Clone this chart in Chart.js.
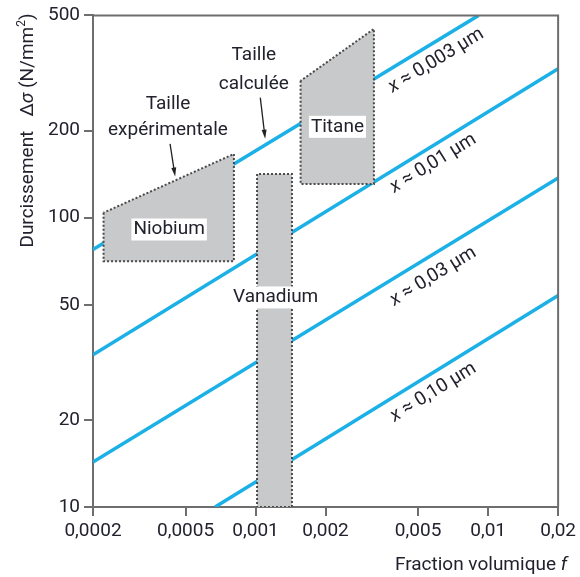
<!DOCTYPE html>
<html>
<head>
<meta charset="utf-8">
<script src="https://cdn.jsdelivr.net/npm/chart.js@4.4.1/dist/chart.umd.min.js"></script>
<style>
html,body{margin:0;padding:0;background:#fff}
</style>
</head>
<body>
<canvas id="chart" width="580" height="577"></canvas>
<script>
// axis ticks
const xTicks = [0.0002, 0.0005, 0.001, 0.002, 0.005, 0.01, 0.02]
const yTicks = [10, 20, 50, 100, 200, 500]

// calculated lines, one per particle size (f, sigma at both ends)
const lineNames = ["0,003 µm", "0,01 µm", "0,03 µm", "0,10 µm"]
const lineF = [[0.0002, 0.0091], [0.0002, 0.02], [0.0002, 0.02], [0.00067, 0.02]]
const lineS = [[77.6, 500], [33.6, 327], [14.3, 137], [10, 53.8]]
const lineLabelF = [0.00598, 0.00581, 0.00581, 0.00581]
const lineLabelS = [349, 154, 62.6, 24.9]

// measured zones (corners)
const zoneNames = ["Niobium", "Vanadium", "Titane"]
const zoneF = [
  [0.000222, 0.000222, 0.000807, 0.000807],
  [0.001015, 0.001015, 0.001434, 0.001434],
  [0.001562, 0.001562, 0.003228, 0.003228]
]
const zoneS = [
  [104, 70.7, 70.7, 166],
  [141.6, 10, 10, 141.6],
  [297, 130.8, 130.8, 449]
]
const zoneLabelF = [0.000425, 0.00122, 0.00225]
const zoneLabelS = [91, 53, 206]

// notes with arrows
const noteText = [["Taille", "expérimentale"], ["Taille", "calculée"]]
const noteF = [0.00042, 0.000983]
const noteS = [[246, 200], [363, 288]]
const arrowF = [[0.000429, 0.000451], [0.001048, 0.0011]]
const arrowS = [[180, 138.7], [260, 187.5]]

const FONT = "Roboto, 'Liberation Sans', sans-serif"
const SIZE = 19
const axisColor = "#6e6e6e"
const textColor = "#22222e"
const blue = "#1bb0e6"

const font = (style, size) => style + " " + size + "px " + FONT

// draw a run of text pieces with different fonts
function drawRich(ctx, parts, x, y, align){
  ctx.textAlign = "left"
  let total = 0
  parts.forEach(p => { ctx.font = p.f; p.w = ctx.measureText(p.t).width; total += p.w })
  let cx = align === "right" ? x - total : align === "center" ? x - total / 2 : x
  parts.forEach(p => {
    ctx.font = p.f
    ctx.fillText(p.t, cx, y + (p.dy || 0))
    cx += p.w
  })
  return total
}

const datasets = []

zoneNames.forEach((name, i) => {
  const pts = zoneF[i].map((f, j) => ({x: f, y: zoneS[i][j]}))
  pts.push(pts[0])
  datasets.push({
    label: name,
    data: pts,
    showLine: true,
    fill: "shape",
    backgroundColor: "#c8c9cb",
    borderColor: "#4a4a4a",
    borderWidth: 2,
    borderDash: [2, 2],
    pointRadius: 0,
    tension: 0,
    order: 0
  })
})

lineNames.forEach((name, i) => {
  datasets.push({
    label: name,
    data: lineF[i].map((f, j) => ({x: f, y: lineS[i][j]})),
    showLine: true,
    fill: false,
    borderColor: blue,
    borderWidth: 3.5,
    pointRadius: 0,
    order: 1
  })
})

const annotations = {
  id: "annotations",
  afterDatasetsDraw(chart){
    const ctx = chart.ctx
    const a = chart.chartArea
    const xs = chart.scales.x, ys = chart.scales.y
    const P = (f, s) => [xs.getPixelForValue(f), ys.getPixelForValue(s)]
    ctx.save()

    // top and right frame
    ctx.strokeStyle = axisColor
    ctx.lineWidth = 2
    ctx.beginPath()
    ctx.moveTo(a.left, a.top)
    ctx.lineTo(a.right, a.top)
    ctx.lineTo(a.right, a.bottom)
    ctx.stroke()

    ctx.fillStyle = textColor
    ctx.textBaseline = "middle"

    // zone labels on white
    zoneNames.forEach((name, i) => {
      const [px, py] = P(zoneLabelF[i], zoneLabelS[i])
      ctx.font = font("normal", SIZE)
      const w = ctx.measureText(name).width
      ctx.fillStyle = "#fff"
      ctx.fillRect(px - w / 2 - 2, py - 11, w + 4, 22)
      ctx.fillStyle = textColor
      ctx.textAlign = "center"
      ctx.fillText(name, px, py)
    })

    // notes and arrows
    noteText.forEach((lines, i) => {
      lines.forEach((t, j) => {
        const [px, py] = P(noteF[i], noteS[i][j])
        ctx.font = font("normal", SIZE)
        ctx.textAlign = "center"
        ctx.fillText(t, px, py)
      })
      const [x1, y1] = P(arrowF[i][0], arrowS[i][0])
      const [x2, y2] = P(arrowF[i][1], arrowS[i][1])
      const ang = Math.atan2(y2 - y1, x2 - x1)
      ctx.strokeStyle = "#222"
      ctx.lineWidth = 1.3
      ctx.beginPath()
      ctx.moveTo(x1, y1)
      ctx.lineTo(x2 - 6 * Math.cos(ang), y2 - 6 * Math.sin(ang))
      ctx.stroke()
      ctx.beginPath()
      ctx.moveTo(x2, y2)
      ctx.lineTo(x2 - 9 * Math.cos(ang) + 2.5 * Math.sin(ang), y2 - 9 * Math.sin(ang) - 2.5 * Math.cos(ang))
      ctx.lineTo(x2 - 9 * Math.cos(ang) - 2.5 * Math.sin(ang), y2 - 9 * Math.sin(ang) + 2.5 * Math.cos(ang))
      ctx.closePath()
      ctx.fillStyle = "#222"
      ctx.fill()
      ctx.fillStyle = textColor
    })

    // rotated line labels
    lineNames.forEach((name, i) => {
      const [x1, y1] = P(lineF[i][0], lineS[i][0])
      const [x2, y2] = P(lineF[i][1], lineS[i][1])
      const ang = Math.atan2(y2 - y1, x2 - x1)
      const [px, py] = P(lineLabelF[i], lineLabelS[i])
      ctx.save()
      ctx.translate(px, py)
      ctx.rotate(ang)
      ctx.textBaseline = "middle"
      drawRich(ctx, [
        {t: "x", f: font("italic", SIZE)},
        {t: " ≈ " + name, f: font("normal", SIZE)}
      ], 0, 0, "center")
      ctx.restore()
    })

    // y axis title
    ctx.save()
    ctx.translate(33, a.top - 2)
    ctx.rotate(-Math.PI / 2)
    ctx.textBaseline = "alphabetic"
    drawRich(ctx, [
      {t: "Durcissement   Δ", f: font("normal", SIZE)},
      {t: "σ", f: font("italic", SIZE)},
      {t: " (N/mm", f: font("normal", SIZE)},
      {t: "2", f: font("normal", 12), dy: -8},
      {t: ")", f: font("normal", SIZE)}
    ], 0, 0, "right")
    ctx.restore()

    // x axis title
    ctx.textBaseline = "alphabetic"
    drawRich(ctx, [
      {t: "Fraction volumique ", f: font("normal", SIZE)},
      {t: "f", f: font("italic", SIZE)}
    ], a.right + 9, 570, "right")

    ctx.restore()
  }
}

const chart = new Chart(document.getElementById("chart"), {
  type: "scatter",
  data: {datasets: datasets},
  options: {
    responsive: false,
    animation: false,
    layout: {padding: {top: 15, right: 21, left: 0, bottom: 0}},
    plugins: {legend: {display: false}, tooltip: {enabled: false}},
    scales: {
      x: {
        type: "logarithmic",
        min: 0.0002,
        max: 0.02,
        afterBuildTicks: s => { s.ticks = xTicks.map(v => ({value: v})) },
        afterFit: s => { s.height = 70 },
        ticks: {
          font: {family: FONT, size: SIZE},
          color: textColor,
          padding: 4,
          maxRotation: 0,
          autoSkip: false,
          callback: v => String(v).replace(".", ",")
        },
        grid: {drawOnChartArea: false, drawTicks: true, tickLength: 9, color: axisColor, lineWidth: 2},
        border: {color: axisColor, width: 2}
      },
      y: {
        type: "logarithmic",
        min: 10,
        max: 500,
        afterBuildTicks: s => { s.ticks = yTicks.map(v => ({value: v})) },
        afterFit: s => { s.width = 93 },
        ticks: {
          font: {family: FONT, size: SIZE},
          color: textColor,
          padding: 4,
          autoSkip: false,
          callback: v => String(v)
        },
        grid: {drawOnChartArea: false, drawTicks: true, tickLength: 9, color: axisColor, lineWidth: 2},
        border: {color: axisColor, width: 2}
      }
    }
  },
  plugins: [annotations]
})
</script>
</body>
</html>
